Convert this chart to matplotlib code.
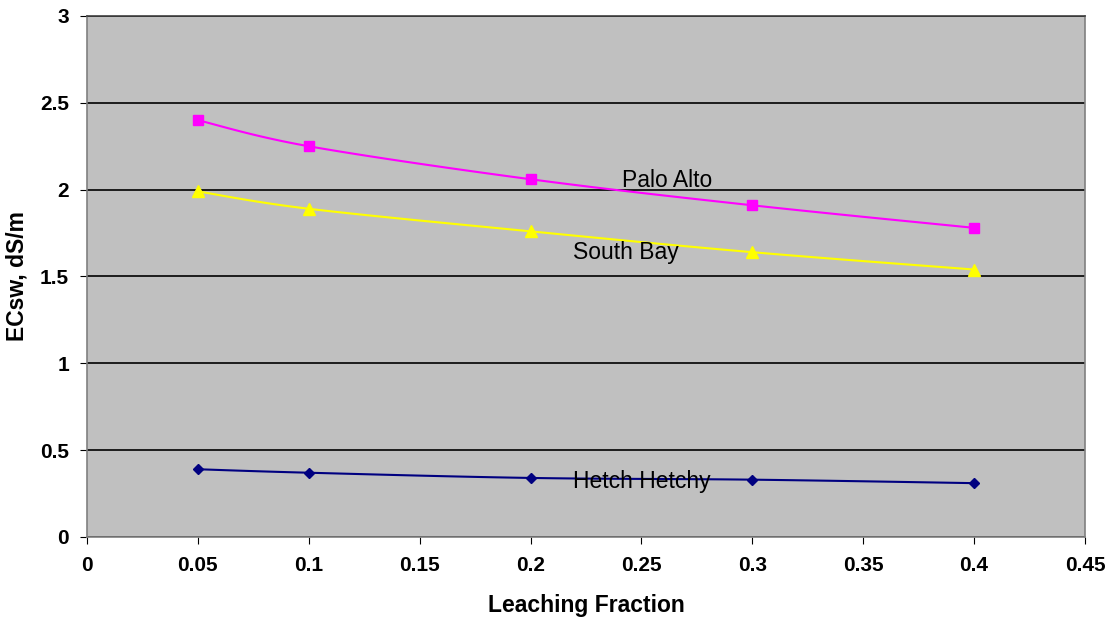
import numpy as np
import matplotlib.pyplot as plt

leaching = [0.05, 0.1, 0.2, 0.3, 0.4]
palo_alto = [2.40, 2.25, 2.06, 1.91, 1.78]
south_bay = [1.99, 1.89, 1.76, 1.64, 1.54]
hetch_hetchy = [0.39, 0.37, 0.34, 0.33, 0.31]

x_ticks = [0, 0.05, 0.1, 0.15, 0.2, 0.25, 0.3, 0.35, 0.4, 0.45]
y_ticks = [0, 0.5, 1, 1.5, 2, 2.5, 3]


def smooth(xs, ys, n=30):
    # Catmull-Rom through the points, like a spreadsheet "smoothed line"
    p = np.column_stack([xs, ys]).astype(float)
    p = np.vstack([p[0], p, p[-1]])
    out = []
    for i in range(1, len(p) - 2):
        p0, p1, p2, p3 = p[i - 1], p[i], p[i + 1], p[i + 2]
        t = np.linspace(0, 1, n)[:, None]
        seg = 0.5 * ((2 * p1) + (-p0 + p2) * t
                     + (2 * p0 - 5 * p1 + 4 * p2 - p3) * t ** 2
                     + (-p0 + 3 * p1 - 3 * p2 + p3) * t ** 3)
        out.append(seg)
    out = np.vstack(out)
    return out[:, 0], out[:, 1]


plt.rcParams['font.family'] = ['Liberation Sans', 'DejaVu Sans']

fig = plt.figure(figsize=(11.12, 6.2), dpi=100)
ax = fig.add_axes([0.0782, 0.1339, 0.8975, 0.8403])
ax.set_facecolor('#C0C0C0')

series = [
    (palo_alto, '#FF00FF', 's', 7),
    (south_bay, '#FFFF00', '^', 8),
    (hetch_hetchy, '#000080', 'D', 5),
]
for ys, col, mk, ms in series:
    sx, sy = smooth(leaching, ys)
    ax.plot(sx, sy, color=col, lw=1.5, zorder=3)
    ax.plot(leaching, ys, ls='none', marker=mk, ms=ms, color=col, zorder=4)

ax.text(0.2413, 2.05, 'Palo Alto', fontsize=16.5, va='center')
ax.text(0.2190, 1.64, 'South Bay', fontsize=16.5, va='center')
ax.text(0.2190, 0.32, 'Hetch Hetchy', fontsize=16.5, va='center')

ax.set_xlim(0, 0.45)
ax.set_ylim(0, 3)
ax.set_xticks(x_ticks)
ax.set_xticklabels([f'{v:g}' for v in x_ticks])
ax.set_yticks(y_ticks)
ax.set_yticklabels([f'{v:g}' for v in y_ticks])
ax.yaxis.grid(True, color='#000000', lw=1.2)
ax.set_axisbelow(True)

for s in ax.spines.values():
    s.set_color('#808080')
    s.set_linewidth(1.2)
ax.spines['top'].set_color('#404040')

ax.tick_params(axis='both', direction='out', length=5, color='#000000',
               labelsize=15)
ax.tick_params(axis='x', pad=9)
ax.tick_params(axis='y', pad=8)
for lbl in ax.get_xticklabels() + ax.get_yticklabels():
    lbl.set_fontweight('bold')

ax.set_xlabel('Leaching Fraction', fontsize=16.5, fontweight='bold')
ax.set_ylabel('ECsw, dS/m', fontsize=16.5, fontweight='bold')
ax.xaxis.set_label_coords(0.5, -0.109)
ax.yaxis.set_label_coords(-0.059, 0.5)

fig.savefig('out.png', dpi=100)
